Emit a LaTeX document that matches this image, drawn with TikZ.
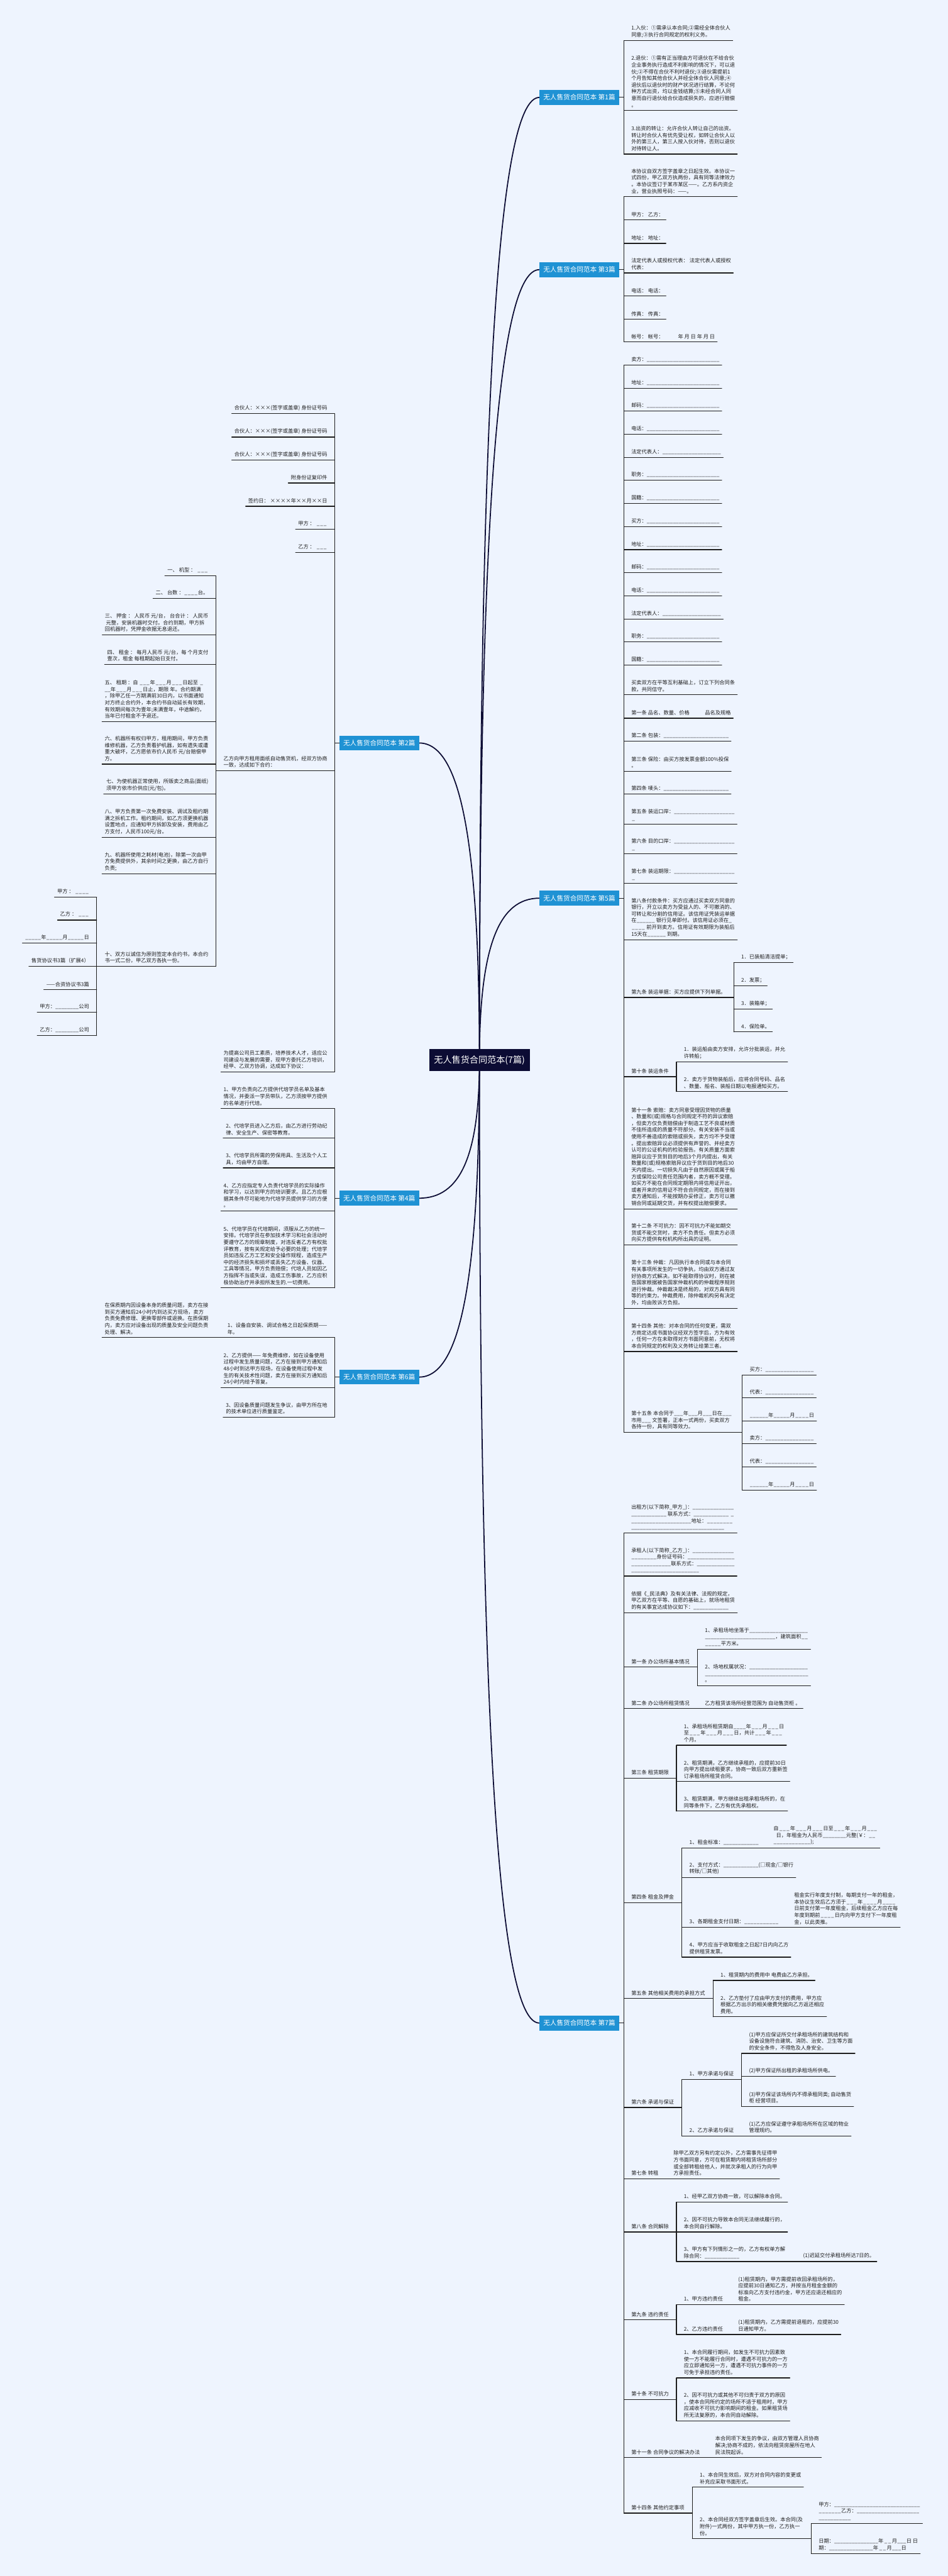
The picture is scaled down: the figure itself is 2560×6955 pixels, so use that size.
\documentclass[tikz,border=0pt]{standalone}
\usepackage{fontspec}
\usepackage{tikz}
\usetikzlibrary{backgrounds}
\newfontfamily\cjk{Noto Sans CJK SC}
\definecolor{paper}{RGB}{238,244,254}
\definecolor{topic}{RGB}{31,146,212}
\definecolor{navy}{RGB}{12,12,52}
\definecolor{ink}{RGB}{30,30,30}
\newcommand\fillin[1]{\leavevmode\xleaders\hbox{\_}\hskip#1pt\kern0pt\relax}

\begin{document}
\begin{tikzpicture}[
        x=1pt, y=-1pt,
        uline/.style={draw=ink, line width=2pt, line cap=round},
        trunk/.style={draw=navy, line width=3pt},
        root/.style={fill=navy, text=white, minimum width=272pt, minimum height=60pt, inner sep=0pt, font=\cjk\fontsize{24}{28}\selectfont},
        br/.style={fill=topic, text=white, minimum width=215pt, minimum height=40pt, inner sep=0pt, font=\cjk\fontsize{18}{22}\selectfont},
        rit/.style={anchor=south west, align=left, inner xsep=0pt, inner ysep=8pt, text=ink, font=\cjk\fontsize{14}{18}\selectfont,
            append after command={([xshift=-20pt]\tikzlastnode.south west) edge[uline] ([xshift=6pt]\tikzlastnode.south east)}},
        lit/.style={anchor=south east, align=left, inner xsep=0pt, inner ysep=8pt, text=ink, font=\cjk\fontsize{14}{18}\selectfont,
            append after command={([xshift=-7pt]\tikzlastnode.south west) edge[uline] ([xshift=20pt]\tikzlastnode.south east)}}
    ]
        \useasboundingbox (0,0) rectangle (2560,6955);

        \node[root] (root) at (1295,2862) {无人售货合同范本(7篇)};
        \node[br, anchor=west] (b1) at (1457,263) {无人售货合同范本 第1篇};
        \node[br, anchor=east] (b2) at (1132,2006) {无人售货合同范本 第2篇};
        \node[br, anchor=west] (b3) at (1457,728) {无人售货合同范本 第3篇};
        \node[br, anchor=east] (b4) at (1132,3235) {无人售货合同范本 第4篇};
        \node[br, anchor=west] (b5) at (1457,2425) {无人售货合同范本 第5篇};
        \node[br, anchor=east] (b6) at (1132,3718) {无人售货合同范本 第6篇};
        \node[br, anchor=west] (b7) at (1457,5462) {无人售货合同范本 第7篇};

        \node[rit] (a1) at (1705,110) {1.入伙：①需承认本合同;②需经全体合伙人\\同意;③执行合同规定的权利义务。};
        \node[rit] (a2) at (1705,298) {2.退伙：①需有正当理由方可退伙在不给合伙\\企业事务执行造成不利影响的情况下，可以退\\伙;②不得在合伙不利时退伙;③退伙需提前1\\个月告知其他合伙人并经全体合伙人同意;④\\退伙后以退伙时的财产状况进行结算，不论何\\种方式出资，均以金钱结算;⑤未经合同人同\\意而自行退伙给合伙造成损失的，应进行赔偿\\。};
        \node[rit] (a3) at (1705,416) {3.出资的转让：允许合伙人转让自己的出资。\\转让时合伙人有优先受让权，如转让合伙人以\\外的第三人，第三人按入伙对待，否则以退伙\\对待转让人。};
        \draw[uline] (b1.east) -| ([xshift=-20pt]a1.south west) -- ([xshift=-20pt]a3.south west);

        \node[rit] (c1) at (1705,531) {本协议自双方签字盖章之日起生效。本协议一\\式四份，甲乙双方执两份，具有同等法律效力\\。本协议签订于某市某区——。乙方系内资企\\业，营业执照号码：——。};
        \node[rit] (c2) at (1705,594) {甲方：\ 乙方：};
        \node[rit] (c3) at (1705,657) {地址：\ 地址：};
        \node[rit] (c4) at (1705,737) {法定代表人或授权代表：\ 法定代表人或授权\\代表：};
        \node[rit] (c5) at (1705,799) {电话：\ 电话：};
        \node[rit] (c6) at (1705,862) {传真：\ 传真：};
        \node[rit] (c7) at (1705,923) {帐号：\ 帐号：\hspace{39pt}年\ 月\ 日\ 年\ 月\ 日};
        \draw[uline] (b3.east) -| ([xshift=-20pt]c1.south west) -- ([xshift=-20pt]c7.south west);

        \node[rit] (d1) at (1705,985) {卖方：\fillin{196}};
        \node[rit] (d2) at (1705,1048) {地址：\fillin{196}};
        \node[rit] (d3) at (1705,1110) {邮码：\fillin{196}};
        \node[rit] (d4) at (1705,1172) {电话：\fillin{196}};
        \node[rit] (d5) at (1705,1235) {法定代表人：\fillin{158}};
        \node[rit] (d6) at (1705,1297) {职务：\fillin{196}};
        \node[rit] (d7) at (1705,1359) {国籍：\fillin{196}};
        \node[rit] (d8) at (1705,1422) {买方：\fillin{196}};
        \node[rit] (d9) at (1705,1484) {地址：\fillin{196}};
        \node[rit] (d10) at (1705,1546) {邮码：\fillin{196}};
        \node[rit] (d11) at (1705,1609) {电话：\fillin{196}};
        \node[rit] (d12) at (1705,1671) {法定代表人：\fillin{158}};
        \node[rit] (d13) at (1705,1733) {职务：\fillin{196}};
        \node[rit] (d14) at (1705,1796) {国籍：\fillin{196}};
        \node[rit] (d15) at (1705,1876) {买卖双方在平等互利基础上，订立下列合同条\\款，共同信守。};
        \node[rit] (d16) at (1705,1939) {第一条 品名、数量、价格};
        \node[rit] (d16a) at (1904,1939) {品名及规格};
        \node[rit] (d17) at (1705,2001) {第二条 包装：\fillin{176}};
        \node[rit] (d18) at (1705,2082) {第三条 保险：由买方按发票金额100\%投保\\。};
        \node[rit] (d19) at (1705,2144) {第四条 唛头：\fillin{176}};
        \node[rit] (d20) at (1705,2225) {第五条 装运口岸：\fillin{164}\\\fillin{12}};
        \node[rit] (d21) at (1705,2305) {第六条 目的口岸：\fillin{164}\\\fillin{12}};
        \node[rit] (d22) at (1705,2385) {第七条 装运期限：\fillin{164}\\\fillin{12}};
        \node[rit] (d23) at (1705,2537) {第八条付款条件：买方应通过买卖双方同意的\\银行，开立以卖方为受益人的、不可撤消的、\\可转让和分割的信用证。该信用证凭装运单据\\在\fillin{50}\ 银行见单即付。该信用证必须在\fillin{8}\\\fillin{38}\ 前开到卖方。信用证有效期限为装船后\\15天在\fillin{50}\ 到期。};
        \node[rit] (d24) at (1705,2693) {第九条 装运单据：买方应提供下列单据。};
        \node[rit] (e1) at (2002,2599) {1．已装船清洁提单；};
        \node[rit] (e2) at (2002,2662) {2．发票；};
        \node[rit] (e3) at (2002,2724) {3．装箱单；};
        \node[rit] (e4) at (2002,2786) {4．保险单。};
        \node[rit] (d25) at (1705,2907) {第十条 装运条件};
        \node[rit] (f1) at (1847,2867) {1．装运船由卖方安排，允许分批装运，并允\\许转船；};
        \node[rit] (f2) at (1847,2947) {2．卖方于货物装船后，应将合同号码、品名\\、数量、船名、装船日期以电报通知买方。};
        \node[rit] (d26) at (1705,3264) {第十一条 索赔：卖方同意受理因货物的质量\\、数量和(或)规格与合同规定不符的异议索赔\\，但卖方仅负责赔偿由于制造工艺不良或材质\\不佳所造成的质量不符部分。有关安装不当或\\使用不善造成的索赔或损失，卖方均不予受理\\。提出索赔异议必须提供有声誉的、并经卖方\\认可的公证机构的检验报告。有关质量方面索\\赔异议应于货到目的地后3个月内提出，有关\\数量和(或)规格索赔异议应于货到目的地后30\\天内提出。一切损失凡由于自然原因或属于船\\方或保险公司责任范围内者，卖方概不受理。\\如买方不能在合同规定期限内将信用证开出，\\或者开来的信用证不符合合同规定，而在接到\\卖方通知后，不能按期办妥修正，卖方可以撤\\销合同或延期交货，并有权提出赔偿要求。};
        \node[rit] (d27) at (1705,3361) {第十二条 不可抗力：因不可抗力不能如期交\\货或不能交货时，卖方不负责任。但卖方必须\\向买方提供有权机构所出具的证明。};
        \node[rit] (d28) at (1705,3532) {第十三条 仲裁：凡因执行本合同或与本合同\\有关事项所发生的一切争执，均由双方通过友\\好协商方式解决。如不能取得协议时，则在被\\告国家根据被告国家仲裁机构的仲裁程序规则\\进行仲裁。仲裁裁决是终局的，对双方具有同\\等的约束力。仲裁费用，除仲裁机构另有决定\\外，均由败诉方负担。};
        \node[rit] (d29) at (1705,3649) {第十四条 其他：对本合同的任何变更，需双\\方商定达成书面协议经双方签字后，方为有效\\，任何一方在未取得对方书面同意前，无权将\\本合同规定的权利及义务转让给第三者。};
        \node[rit] (d30) at (1705,3867) {第十五条 本合同于\fillin{25}年\fillin{25}月\fillin{25}日在\fillin{25}\\市用\fillin{25}\ 文签署，正本一式两份，买卖双方\\各持一份，具有同等效力。};
        \node[rit] (g1) at (2025,3712) {买方：\fillin{131}};
        \node[rit] (g2) at (2025,3774) {代表：\fillin{131}};
        \node[rit] (g3) at (2025,3836) {\fillin{50}年\fillin{44}月\fillin{38}日};
        \node[rit] (g4) at (2025,3898) {卖方：\fillin{131}};
        \node[rit] (g5) at (2025,3960) {代表：\fillin{131}};
        \node[rit] (g6) at (2025,4023) {\fillin{50}年\fillin{44}月\fillin{38}日};
        \draw[uline] (b5.east) -| ([xshift=-20pt]d1.south west) -- ([xshift=-20pt]d30.south west);
        \draw[uline] (d16.south east) -- (d16a.south west);
        \draw[uline] (d24.south east) -| ([xshift=-20pt]e1.south west) -- ([xshift=-20pt]e4.south west);
        \draw[uline] (d25.south east) -| ([xshift=-20pt]f1.south west) -- ([xshift=-20pt]f2.south west);
        \draw[uline] (d30.south east) -| ([xshift=-20pt]g1.south west) -- ([xshift=-20pt]g6.south west);

        \node[rit] (h1) at (1705,4139) {出租方(以下简称\_甲方\_)：\fillin{112}\\\fillin{95}\ 联系方式：\fillin{95}\ \fillin{13}\\\fillin{162}地址：\fillin{70}\\\fillin{251}};
        \node[rit] (h2) at (1705,4255) {承租人(以下简称\_乙方\_)：\fillin{112}\\\fillin{68}身份证号码：\fillin{127}\\\fillin{107}联系方式：\fillin{102}\\\fillin{183}};
        \node[rit] (h3) at (1705,4354) {依据《\_民法典》及有关法律、法规的规定，\\甲乙双方在平等、自愿的基础上，就场地租赁\\的有关事宜达成协议如下：\fillin{95}};
        \node[rit] (h4) at (1705,4501) {第一条 办公场所基本情况};
        \node[rit] (i1) at (1904,4453) {1、承租场地坐落于\fillin{158}\\\fillin{190}，建筑面积\fillin{19}\\\fillin{43}平方米。};
        \node[rit] (i2) at (1904,4551) {2、场地权属状况：\fillin{158}\\\fillin{279}\\。};
        \node[rit] (h5) at (1705,4613) {第二条 办公场所租赁情况};
        \node[rit] (h5a) at (1904,4613) {乙方租赁该场所经营范围为\ 自动售货柜\ 。};
        \node[rit] (h6) at (1705,4801) {第三条 租赁期限};
        \node[rit] (j1) at (1847,4712) {1、承租场所租赁期自\fillin{34}年\fillin{30}月\fillin{31}日\\至\fillin{31}年\fillin{31}月\fillin{31}日，共计\fillin{31}年\fillin{31}\\个月。};
        \node[rit] (j2) at (1847,4810) {2、租赁期满，乙方继续承租的，应提前30日\\向甲方提出续租要求，协商一致后双方重新签\\订承租场所租赁合同。};
        \node[rit] (j3) at (1847,4890) {3、租赁期满，甲方继续出租承租场所的，在\\同等条件下，乙方有优先承租权。};
        \node[rit] (h7) at (1705,5137) {第四条 租金及押金};
        \node[rit] (k1) at (1862,4989) {1、租金标准：\fillin{95}};
        \node[rit] (k1a) at (2089,4989) {自\fillin{31}年\fillin{31}月\fillin{30}日至\fillin{31}年\fillin{31}月\fillin{29}\\\fillin{7}日，年租金为人民币\fillin{63}元整(￥：\fillin{19}\\\fillin{100});};
        \node[rit] (k2) at (1862,5069) {2、支付方式：\fillin{95}(□现金/□银行\\转账/□其他)};
        \node[rit] (k3) at (1862,5204) {3、各期租金支付日期：\fillin{93}};
        \node[rit] (k3a) at (2145,5204) {租金实行年度支付制，每期支付一年的租金，\\本协议生效后乙方须于\fillin{31}年\fillin{39}月\fillin{36}\\日前支付第一年度租金，后续租金乙方应在每\\年度到期前\fillin{39}日内向甲方支付下一年度租\\金，以此类推。};
        \node[rit] (k4) at (1862,5284) {4、甲方应当于收取租金之日起7日内向乙方\\提供租赁发票。};
        \node[rit] (h8) at (1705,5396) {第五条 其他相关费用的承担方式};
        \node[rit] (l1) at (1946,5347) {1、租赁期内的费用中\ 电费由乙方承担。};
        \node[rit] (l2) at (1946,5445) {2、乙方垫付了应由甲方支付的费用，甲方应\\根据乙方出示的相关缴费凭据向乙方返还相应\\费用。};
        \node[rit] (h9) at (1705,5690) {第六条 承诺与保证};
        \node[rit] (m1) at (1862,5614) {1、甲方承诺与保证};
        \node[rit] (n1) at (2023,5544) {(1)甲方应保证所交付承租场所的建筑结构和\\设备设施符合建筑、消防、治安、卫生等方面\\的安全条件，不得危及人身安全。};
        \node[rit] (n2) at (2023,5606) {(2)甲方保证所出租的承租场所供电。};
        \node[rit] (n3) at (2023,5687) {(3)甲方保证该场所内不得承租同类;\ 自动售货\\柜\ 经营项目。};
        \node[rit] (m2) at (1862,5767) {2、乙方承诺与保证};
        \node[rit] (m2a) at (2023,5767) {(1)乙方应保证遵守承租场所所在区域的物业\\管理规约。};
        \node[rit] (h10) at (1705,5882) {第七条 转租};
        \node[rit] (h10a) at (1819,5882) {除甲乙双方另有约定以外，乙方需事先征得甲\\方书面同意，方可在租赁期内将租赁场所部分\\或全部转租给他人，并就次承租人的行为向甲\\方承担责任。};
        \node[rit] (h11) at (1705,6026) {第八条 合同解除};
        \node[rit] (o1) at (1847,5945) {1、经甲乙双方协商一致，可以解除本合同。};
        \node[rit] (o2) at (1847,6026) {2、因不可抗力导致本合同无法继续履行的，\\本合同自行解除。};
        \node[rit] (o3) at (1847,6106) {3、甲方有下列情形之一的，乙方有权单方解\\除合同：\fillin{94}};
        \node[rit] (o3a) at (2169,6106) {(1)迟延交付承租场所达7日的。};
        \node[rit] (h12) at (1705,6263) {第九条 违约责任};
        \node[rit] (p1) at (1847,6222) {1、甲方违约责任};
        \node[rit] (p1a) at (1994,6222) {(1)租赁期内，甲方需提前收回承租场所的，\\应提前30日通知乙方，并按当月租金金额的\\标准向乙方支付违约金，甲方还应退还相应的\\租金。};
        \node[rit] (p2) at (1847,6303) {2、乙方违约责任};
        \node[rit] (p2a) at (1994,6303) {(1)租赁期内，乙方需提前退租的，应提前30\\日通知甲方。};
        \node[rit] (h13) at (1705,6478) {第十条 不可抗力};
        \node[rit] (q1) at (1847,6420) {1、本合同履行期间，如发生不可抗力因素致\\使一方不能履行合同时，遭遇不可抗力的一方\\应立即通知另一方，遭遇不可抗力事件的一方\\可免于承担违约责任。};
        \node[rit] (q2) at (1847,6536) {2、因不可抗力或其他不可归责于双方的原因\\，使本合同所约定的场所不适于租用时，甲方\\应减收不可抗力影响期间的租金。如果租赁场\\所无法复原的，本合同自动解除。};
        \node[rit] (h14) at (1705,6635) {第十一条 合同争议的解决办法};
        \node[rit] (h14a) at (1932,6635) {本合同项下发生的争议，由双方管理人员协商\\解决;协商不成的，依法向租赁房屋所在地人\\民法院起诉。};
        \node[rit] (h15) at (1705,6785) {第十四条 其他约定事项};
        \node[rit] (r1) at (1890,6715) {1、本合同生效后，双方对合同内容的变更或\\补充应采取书面形式。};
        \node[rit] (r2) at (1890,6854) {2、本合同经双方签字盖章后生效。本合同(及\\附件)一式两份，其中甲方执一份，乙方执一\\份。};
        \node[rit] (s1) at (2211,6813) {甲方：\fillin{232}\\\fillin{61}乙方：\fillin{169}\\\fillin{87}};
        \node[rit] (s2) at (2211,6894) {日期：\fillin{119}年\fillin{23}月\fillin{25}日\ 日\\期：\fillin{119}年\fillin{23}月\fillin{25}日};
        \draw[uline] (b7.east) -| ([xshift=-20pt]h1.south west) -- ([xshift=-20pt]h15.south west);
        \draw[uline] (h4.south east) -| ([xshift=-20pt]i1.south west) -- ([xshift=-20pt]i2.south west);
        \draw[uline] (h5.south east) -- (h5a.south west);
        \draw[uline] (h6.south east) -| ([xshift=-20pt]j1.south west) -- ([xshift=-20pt]j3.south west);
        \draw[uline] (h7.south east) -| ([xshift=-20pt]k1.south west) -- ([xshift=-20pt]k4.south west);
        \draw[uline] (k1.south east) -- (k1a.south west);
        \draw[uline] (k3.south east) -- (k3a.south west);
        \draw[uline] (h8.south east) -| ([xshift=-20pt]l1.south west) -- ([xshift=-20pt]l2.south west);
        \draw[uline] (h9.south east) -| ([xshift=-20pt]m1.south west) -- ([xshift=-20pt]m2.south west);
        \draw[uline] (m1.south east) -| ([xshift=-20pt]n1.south west) -- ([xshift=-20pt]n3.south west);
        \draw[uline] (m2.south east) -- (m2a.south west);
        \draw[uline] (h10.south east) -- (h10a.south west);
        \draw[uline] (h11.south east) -| ([xshift=-20pt]o1.south west) -- ([xshift=-20pt]o3.south west);
        \draw[uline] (o3.south east) -- (o3a.south west);
        \draw[uline] (h12.south east) -| ([xshift=-20pt]p1.south west) -- ([xshift=-20pt]p2.south west);
        \draw[uline] (p1.south east) -- (p1a.south west);
        \draw[uline] (p2.south east) -- (p2a.south west);
        \draw[uline] (h13.south east) -| ([xshift=-20pt]q1.south west) -- ([xshift=-20pt]q2.south west);
        \draw[uline] (h14.south east) -- (h14a.south west);
        \draw[uline] (h15.south east) -| ([xshift=-20pt]r1.south west) -- ([xshift=-20pt]r2.south west);
        \draw[uline] (r2.south east) -| ([xshift=-20pt]s1.south west) -- ([xshift=-20pt]s2.south west);

        \node[lit] (t1) at (884,1117) {合伙人：×××(签字或盖章)\ 身份证号码};
        \node[lit] (t2) at (884,1180) {合伙人：×××(签字或盖章)\ 身份证号码};
        \node[lit] (t3) at (884,1242) {合伙人：×××(签字或盖章)\ 身份证号码};
        \node[lit] (t4) at (884,1304) {附身份证复印件};
        \node[lit] (t5) at (884,1367) {签约日：\ ××××年××月××日};
        \node[lit] (t6) at (884,1429) {甲方\ ：\ \fillin{30}};
        \node[lit] (t7) at (884,1491) {乙方\ ：\ \fillin{30}};
        \node[lit] (t8) at (884,2081) {乙方向甲方租用面纸自动售货机，经双方协商\\一致，达成如下合约：};
        \node[lit] (u1) at (563,1554) {一、\ 机型\ ：\ \fillin{31}};
        \node[lit] (u2) at (563,1616) {二、\ 台数\ ：\fillin{38}台。};
        \node[lit] (u3) at (563,1714) {三、\ 押金\ ：\ 人民币\ 元/台，\ 台合计\ ：\ 人民币\\\ 元整，安装机器时交付。合约到期，甲方拆\\回机器时，凭押金收据无息退还。};
        \node[lit] (u4) at (563,1794) {四、\ 租金\ ：\ 每月人民币\ 元/台，每\ 个月支付\\壹次，租金\ 每租期起始日支付。};
        \node[lit] (u5) at (563,1948) {五、\ 租期\ ：自\ \fillin{29}年\fillin{30}月\fillin{30}日起至\ \fillin{12}\\\fillin{16}年\fillin{29}月\fillin{30}日止，期限\ 年。合约期满\\，除甲乙任一方期满前30日内，以书面通知\\对方终止合约外，本合约书自动延长有效期，\\有效期间每次为壹年;未满壹年，中途解约，\\当年已付租金不予退还。};
        \node[lit] (u6) at (563,2063) {六、机器所有权归甲方，租用期间，甲方负责\\维修机器，乙方负责看护机器，如有遗失或遭\\重大破坏，乙方愿依市价人民币\ 元/台赔偿甲\\方。};
        \node[lit] (u7) at (563,2144) {七、为使机器正常使用，所贩卖之商品(面纸)\\须甲方依市价供应(元/包)。};
        \node[lit] (u8) at (563,2261) {八、甲方负责第一次免费安装、调试及租约期\\满之拆机工作。租约期间，如乙方须更换机器\\设置地点，应通知甲方拆卸及安装，费用由乙\\方支付，人民币100元/台。};
        \node[lit] (u9) at (563,2360) {九、机器所使用之耗材(电池)，除第一次由甲\\方免费提供外，其余时间之更换，由乙方自行\\负责;};
        \node[lit] (u10) at (563,2609) {十、双方以诚信为原则签定本合约书，本合约\\书一式二份，甲乙双方各执一份。};
        \node[lit] (v1) at (241,2422) {甲方\ ：\ \fillin{38}};
        \node[lit] (v2) at (241,2484) {乙方\ ：\ \fillin{30}};
        \node[lit] (v3) at (241,2546) {\fillin{43}年\fillin{44}月\fillin{44}日};
        \node[lit] (v4) at (241,2609) {售货协议书3篇（扩展4）};
        \node[lit] (v5) at (241,2672) {——合资协议书3篇};
        \node[lit] (v6) at (241,2733) {甲方：\fillin{63}公司};
        \node[lit] (v7) at (241,2796) {乙方：\fillin{63}公司};
        \node[lit] (t9) at (884,2894) {为提高公司员工素质，培养技术人才，适应公\\司建设与发展的需要，现甲方委托乙方培训，\\经甲、乙双方协调，达成如下协议：};
        \draw[uline] (b2.west) -| ([xshift=20pt]t1.south east) -- ([xshift=20pt]t9.south east);
        \draw[uline] (t8.south west) -| ([xshift=20pt]u1.south east) -- ([xshift=20pt]u10.south east);
        \draw[uline] (u10.south west) -| ([xshift=20pt]v1.south east) -- ([xshift=20pt]v7.south east);

        \node[lit] (w1) at (884,2993) {1、甲方负责向乙方提供代培学员名单及基本\\情况，并委派一学员带队，乙方须按甲方提供\\的名单进行代培。};
        \node[lit] (w2) at (884,3073) {2、代培学员进入乙方后，由乙方进行劳动纪\\律、安全生产、保密等教育。};
        \node[lit] (w3) at (884,3153) {3、代培学员所需的劳保用具、生活及个人工\\具，均由甲方自理。};
        \node[lit] (w4) at (884,3269) {4、乙方应指定专人负责代培学员的实际操作\\和学习，以达到甲方的培训要求。且乙方应根\\据其条件尽可能地为代培学员提供学习的方便\\。};
        \node[lit] (w5) at (884,3477) {5、代培学员在代培期间，须服从乙方的统一\\安排。代培学员在参加技术学习和社会活动时\\要遵守乙方的规章制度，对违反者乙方有权批\\评教育，按有关规定给予必要的处理；代培学\\员如违反乙方工艺和安全操作规程，造成生产\\中的经济损失和损坏或丢失乙方设备、仪器、\\工具等情况，甲方负责赔偿；代培人员如因乙\\方指挥不当或失误，造成工伤事故，乙方应积\\极协助治疗并承担所发生的.一切费用。};
        \draw[uline] (b4.west) -| ([xshift=20pt]w1.south east) -- ([xshift=20pt]w5.south east);

        \node[lit] (x1) at (884,3611) {1、设备自安装、调试合格之日起保质期——\\年。};
        \node[lit] (x1a) at (563,3611) {在保质期内因设备本身的质量问题，卖方在接\\到买方通知后24小时内到达买方现场，卖方\\负责免费修理、更换零部件或退换。在质保期\\内，卖方应对设备出现的质量及安全问题负责\\处理、解决。};
        \node[lit] (x2) at (884,3746) {2、乙方提供——\ 年免费维修，如在设备使用\\过程中发生质量问题，乙方在接到甲方通知后\\48小时到达甲方现场，在设备使用过程中发\\生的有关技术性问题，卖方在接到买方通知后\\24小时内给予答复。};
        \node[lit] (x3) at (884,3826) {3、因设备质量问题发生争议，由甲方所在地\\的技术单位进行质量鉴定。};
        \draw[uline] (b6.west) -| ([xshift=20pt]x1.south east) -- ([xshift=20pt]x3.south east);
        \draw[uline] (x1.south west) -- (x1a.south east);

        \begin{scope}[on background layer]
            \fill[paper] (0,0) rectangle (2560,6955);
            \draw[trunk] (root.center) .. controls +(0,-1820) and +(-110,0) .. (b1.west);
            \draw[trunk] (root.center) .. controls +(0,-1494) and +(-110,0) .. (b3.west);
            \draw[trunk] (root.center) .. controls +(0,-306) and +(-110,0) .. (b5.west);
            \draw[trunk] (root.center) .. controls +(0,1820) and +(-110,0) .. (b7.west);
            \draw[trunk] (root.center) .. controls +(0,-600) and +(110,0) .. (b2.east);
            \draw[trunk] (root.center) .. controls +(0,261) and +(110,0) .. (b4.east);
            \draw[trunk] (root.center) .. controls +(0,600) and +(110,0) .. (b6.east);
        \end{scope}
    \end{tikzpicture}
\end{document}
